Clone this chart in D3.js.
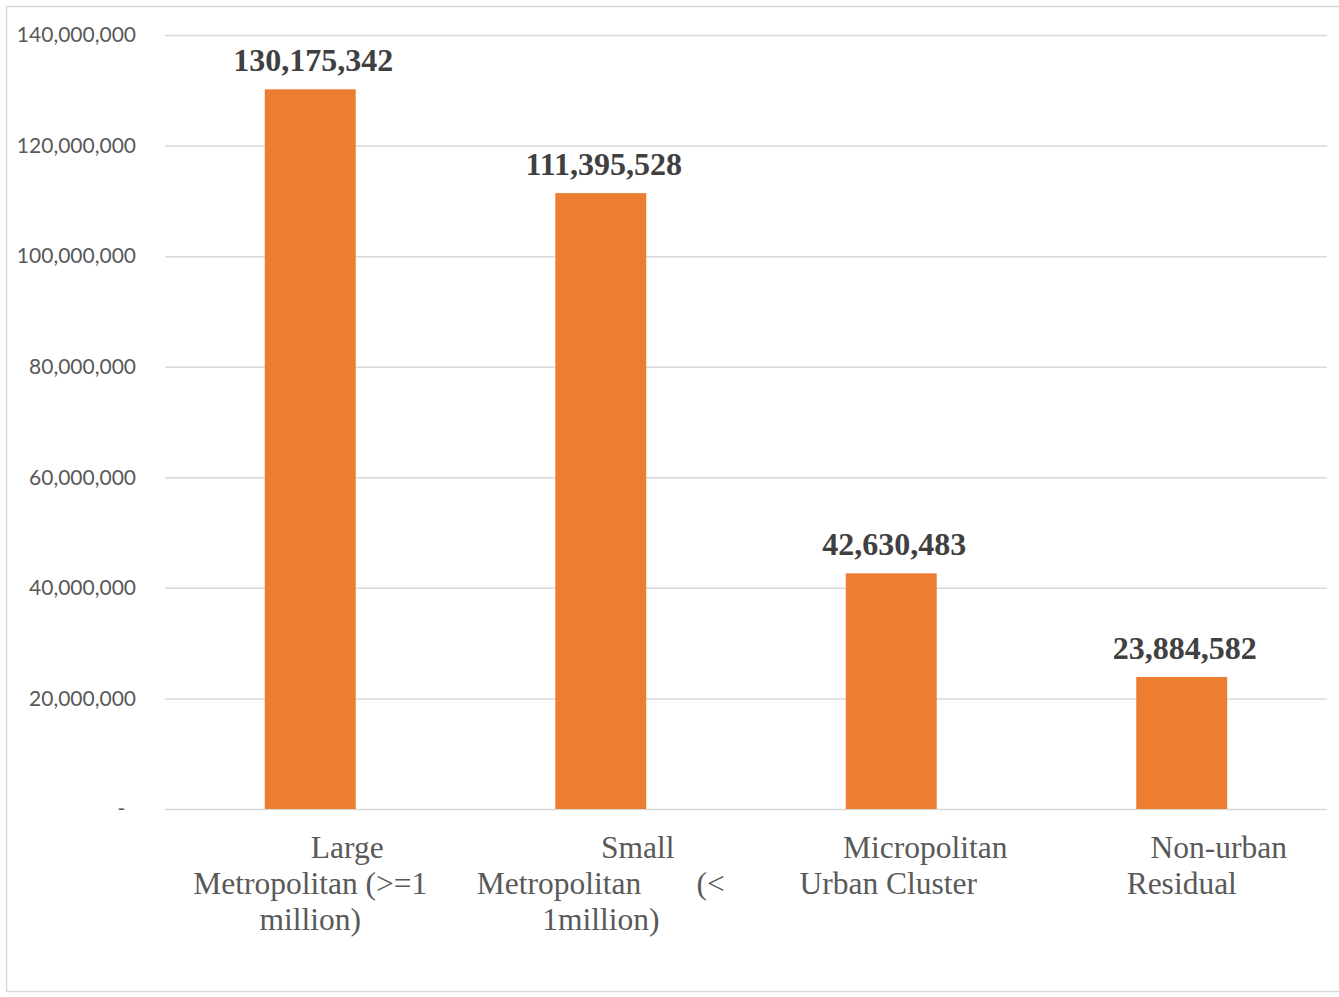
<!DOCTYPE html>
<html>
<head>
<meta charset="utf-8">
<script src="https://cdn.jsdelivr.net/npm/d3@7"></script>
<style>
  html, body { margin: 0; padding: 0; background: #ffffff; }
  svg { display: block; }
</style>
</head>
<body>
<svg id="chart" width="1339" height="997"></svg>
<script>
// Population by settlement type
const categories = [
  "Large Metropolitan (>=1 million)",
  "Small Metropolitan (< 1million)",
  "Micropolitan Urban Cluster",
  "Non-urban Residual"
];
// Wrapped axis label lines for each category
const categoryLines = [
  ["Large", "Metropolitan (>=1", "million)"],
  ["Small", "Metropolitan       (<", "1million)"],
  ["Micropolitan", "Urban Cluster"],
  ["Non-urban", "Residual"]
];
const populations = [130175342, 111395528, 42630483, 23884582];
const yTicks = [0, 20000000, 40000000, 60000000, 80000000, 100000000, 120000000, 140000000];

const W = 1339, H = 997;
const margin = { left: 165, right: 12, top: 35, bottom: 188 };
const svg = d3.select("#chart");

// chart area frame
svg.append("rect")
  .attr("x", 6.5).attr("y", 6.5)
  .attr("width", W + 20).attr("height", 985)
  .attr("fill", "#ffffff")
  .attr("stroke", "#d9d9d9").attr("stroke-width", 1.5);

const x = d3.scaleBand()
  .domain(categories)
  .range([margin.left, W - margin.right])
  .paddingInner(0.687)
  .paddingOuter(0.3435);

const y = d3.scaleLinear()
  .domain([0, 140000000])
  .range([H - margin.bottom, margin.top]);

const fmt = d3.format(",");

// gridlines + y labels
const yAxis = d3.axisLeft(y)
  .tickValues(yTicks)
  .tickSize(-(W - margin.right - margin.left))
  .tickPadding(29)
  .tickFormat(d => d === 0 ? "-  " : fmt(d));

const gy = svg.append("g")
  .attr("transform", `translate(${margin.left},0)`)
  .call(yAxis);
gy.select(".domain").remove();
gy.selectAll(".tick line")
  .attr("stroke", "#d9d9d9").attr("stroke-width", 1.5);
gy.selectAll(".tick text")
  .attr("fill", "#595959")
  .style("font-family", "Lato, 'Open Sans', sans-serif")
  .style("font-size", "21px")
  .style("white-space", "pre");

// bars
svg.append("g").selectAll("rect")
  .data(populations)
  .join("rect")
  .attr("x", (d, i) => x(categories[i]))
  .attr("width", x.bandwidth())
  .attr("y", d => y(d))
  .attr("height", d => y(0) - y(d))
  .attr("fill", "#ed7d31");

// value labels
svg.append("g").selectAll("text")
  .data(populations)
  .join("text")
  .attr("x", (d, i) => x(categories[i]) + x.bandwidth() / 2 + 3)
  .attr("y", d => y(d) - 18)
  .attr("text-anchor", "middle")
  .attr("fill", "#404040")
  .style("font-family", "'Liberation Serif', 'Times New Roman', serif")
  .style("font-weight", "bold")
  .style("font-size", "32px")
  .text(d => fmt(d));

// category labels (first wrapped line indented)
const firstIndent = 37;
const lineHeight = 36;
const catG = svg.append("g").selectAll("text")
  .data(categories)
  .join("text")
  .attr("text-anchor", "middle")
  .attr("fill", "#595959")
  .style("font-family", "'Liberation Serif', 'Times New Roman', serif")
  .style("font-size", "31.5px")
  .style("white-space", "pre");

catG.each(function(c, i) {
  const cx = x(c) + x.bandwidth() / 2;
  d3.select(this).selectAll("tspan")
    .data(categoryLines[i])
    .join("tspan")
    .attr("x", (l, j) => cx + (j === 0 ? firstIndent : 0) - (i === 2 ? 3 : 0))
    .attr("y", (l, j) => y(0) + 49 + j * lineHeight)
    .text(l => l);
});
</script>
</body>
</html>
